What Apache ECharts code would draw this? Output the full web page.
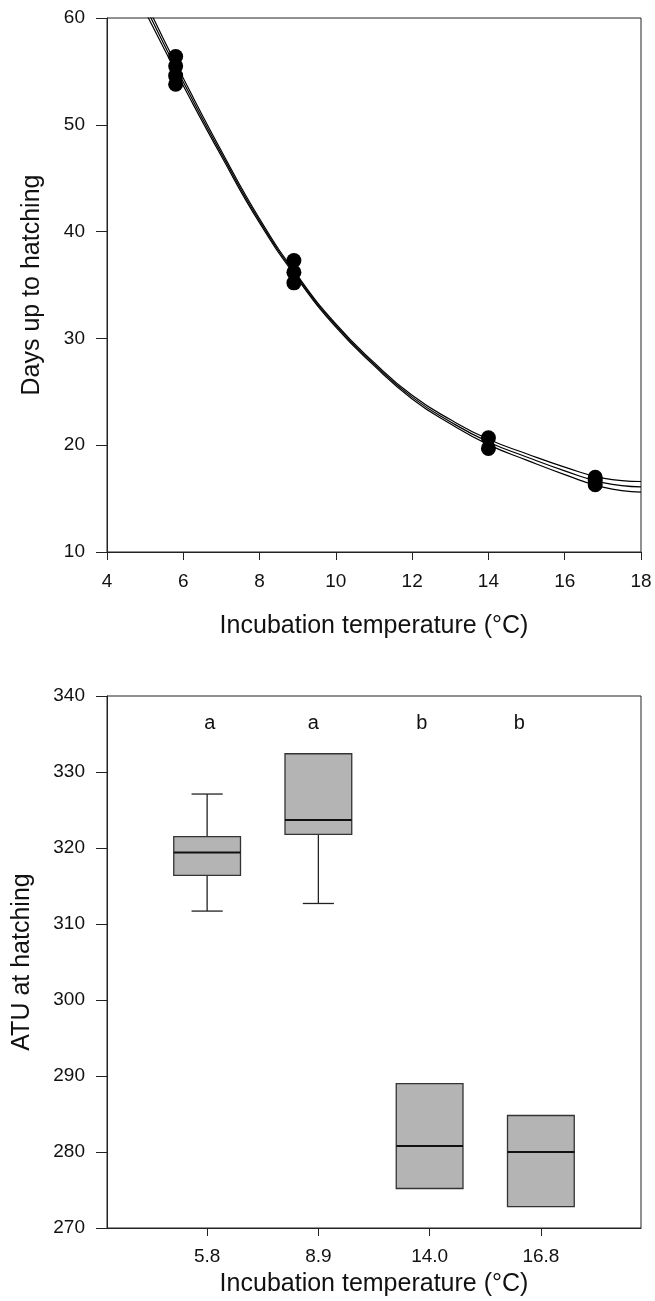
<!DOCTYPE html>
<html>
<head>
<meta charset="utf-8">
<script src="https://cdn.jsdelivr.net/npm/echarts@6/dist/echarts.min.js"></script>
<style>
  html, body { margin: 0; padding: 0; background: #fff; }
  #main { width: 655px; height: 1301px; }
</style>
</head>
<body>
<div id="main"></div>
<script>
// top panel: observed days to hatching
var obsTemp = [5.8, 5.8, 5.8, 5.8, 8.9, 8.9, 8.9, 14.0, 14.0, 16.8, 16.8, 16.8];
var obsDays = [53.8, 54.6, 55.5, 56.4, 35.2, 36.2, 37.3, 19.7, 20.7, 16.3, 16.7, 17.0];

// fitted curve + bands
var curveX = [5.0, 5.5, 6.0, 7.0, 8.0, 9.0, 10.0, 11.0, 12.0, 13.0, 14.0, 15.0, 16.0, 17.0, 18.0];
var curveUp = [61.6, 57.9, 54.35, 47.55, 41.2, 35.85, 31.35, 27.75, 24.67, 22.4, 20.55, 19.2, 17.95, 16.92, 16.6];
var curveMid = [61.1, 57.5, 54.0, 47.3, 41.0, 35.7, 31.2, 27.6, 24.5, 22.2, 20.3, 18.9, 17.6, 16.5, 16.1];
var curveLow = [60.6, 57.1, 53.65, 47.05, 40.8, 35.55, 31.05, 27.45, 24.33, 22.0, 20.05, 18.6, 17.25, 16.08, 15.6];

// bottom panel: ATU box plots
var tempLabels = ['5.8', '8.9', '14.0', '16.8'];
var boxPos = [1, 2, 3, 4];
var whiskLow = [311.7, 312.7, 275.2, 272.8];
var boxQ1 = [316.4, 321.8, 275.2, 272.8];
var boxMed = [319.4, 323.7, 280.8, 280.0];
var boxQ3 = [321.5, 332.4, 289.0, 284.8];
var whiskHigh = [327.1, 332.4, 289.0, 284.8];

var letters = ['a', 'a', 'b', 'b'];
var letterPos = [1.025, 1.954, 2.93, 3.806];
var letterY = 336.4;

var FONT = 'Liberation Sans, Arial, sans-serif';
var INK = '#222';

function pairs(xs, ys) {
  return xs.map(function (x, i) { return [x, ys[i]]; });
}

var boxData = boxPos.map(function (p, i) {
  return [p, whiskLow[i], boxQ1[i], boxMed[i], boxQ3[i], whiskHigh[i]];
});
var letterData = letterPos.map(function (p, i) { return [p, letterY, letters[i]]; });

function renderBox(params, api) {
  var x = api.value(0);
  var lo = api.value(1), q1 = api.value(2), med = api.value(3), q3 = api.value(4), hi = api.value(5);
  var bw = api.size([0.6, 0])[0];
  var cw = api.size([0.28, 0])[0];
  var pLo = api.coord([x, lo]), pQ1 = api.coord([x, q1]), pMed = api.coord([x, med]);
  var pQ3 = api.coord([x, q3]), pHi = api.coord([x, hi]);
  var cx = pMed[0];
  var kids = [];
  var wStyle = { stroke: INK, lineWidth: 1.3 };
  if (hi > q3) {
    kids.push({ type: 'line', shape: { x1: cx, y1: pQ3[1], x2: cx, y2: pHi[1] }, style: wStyle });
    kids.push({ type: 'line', shape: { x1: cx - cw / 2, y1: pHi[1], x2: cx + cw / 2, y2: pHi[1] }, style: wStyle });
  }
  if (lo < q1) {
    kids.push({ type: 'line', shape: { x1: cx, y1: pQ1[1], x2: cx, y2: pLo[1] }, style: wStyle });
    kids.push({ type: 'line', shape: { x1: cx - cw / 2, y1: pLo[1], x2: cx + cw / 2, y2: pLo[1] }, style: wStyle });
  }
  kids.push({
    type: 'rect',
    shape: { x: cx - bw / 2, y: pQ3[1], width: bw, height: pQ1[1] - pQ3[1] },
    style: { fill: '#b4b4b4', stroke: '#333', lineWidth: 1.3 }
  });
  kids.push({ type: 'line', shape: { x1: cx - bw / 2, y1: pMed[1], x2: cx + bw / 2, y2: pMed[1] }, style: { stroke: '#111', lineWidth: 2 } });
  return { type: 'group', children: kids };
}

var axisLine = { show: true, lineStyle: { color: INK, width: 1 } };
var labelStyle = { color: '#111', fontSize: 19, fontFamily: FONT };
var nameStyle = { color: '#111', fontSize: 25, fontFamily: FONT };
var curveStyle = { color: '#000', width: 1.2 };

var option = {
  animation: false,
  backgroundColor: '#fff',
  grid: [
    { left: 107, top: 18, width: 534, height: 534, show: true, borderColor: INK, borderWidth: 1, backgroundColor: 'transparent' },
    { left: 107, top: 696, width: 534, height: 532, show: true, borderColor: INK, borderWidth: 1, backgroundColor: 'transparent' }
  ],
  xAxis: [
    {
      gridIndex: 0, type: 'value', min: 4, max: 18, interval: 2,
      name: 'Incubation temperature (°C)', nameLocation: 'middle', nameGap: 62, nameTextStyle: nameStyle,
      axisLine: axisLine, axisTick: { length: 8, lineStyle: { color: INK } },
      axisLabel: Object.assign({ margin: 20 }, labelStyle),
      splitLine: { show: false }
    },
    {
      gridIndex: 1, type: 'value', min: 0.1, max: 4.9,
      name: 'Incubation temperature (°C)', nameLocation: 'middle', nameGap: 44, nameTextStyle: nameStyle,
      axisLine: axisLine,
      axisTick: { length: 8, lineStyle: { color: INK }, customValues: boxPos },
      axisLabel: Object.assign({ margin: 19, customValues: boxPos, formatter: function (v) { return tempLabels[Math.round(v) - 1]; } }, labelStyle),
      splitLine: { show: false }
    }
  ],
  yAxis: [
    {
      gridIndex: 0, type: 'value', min: 10, max: 60, interval: 10,
      name: 'Days up to hatching', nameLocation: 'middle', nameGap: 62, nameTextStyle: nameStyle,
      axisLine: axisLine, axisTick: { length: 11, lineStyle: { color: INK } },
      axisLabel: Object.assign({ margin: 22 }, labelStyle),
      splitLine: { show: false }
    },
    {
      gridIndex: 1, type: 'value', min: 270, max: 340, interval: 10,
      name: 'ATU at hatching', nameLocation: 'middle', nameGap: 72, nameTextStyle: nameStyle,
      axisLine: axisLine, axisTick: { length: 11, lineStyle: { color: INK } },
      axisLabel: Object.assign({ margin: 22 }, labelStyle),
      splitLine: { show: false }
    }
  ],
  series: [
    { type: 'line', xAxisIndex: 0, yAxisIndex: 0, data: pairs(curveX, curveUp), smooth: true, showSymbol: false, clip: true, lineStyle: curveStyle },
    { type: 'line', xAxisIndex: 0, yAxisIndex: 0, data: pairs(curveX, curveMid), smooth: true, showSymbol: false, clip: true, lineStyle: curveStyle },
    { type: 'line', xAxisIndex: 0, yAxisIndex: 0, data: pairs(curveX, curveLow), smooth: true, showSymbol: false, clip: true, lineStyle: curveStyle },
    { type: 'scatter', xAxisIndex: 0, yAxisIndex: 0, data: pairs(obsTemp, obsDays), symbol: 'circle', symbolSize: 15, itemStyle: { color: '#000', opacity: 1 }, z: 5 },
    { type: 'custom', xAxisIndex: 1, yAxisIndex: 1, data: boxData, renderItem: renderBox, encode: { x: 0, y: [1, 2, 3, 4, 5] } },
    {
      type: 'scatter', xAxisIndex: 1, yAxisIndex: 1, data: letterData, symbolSize: 1,
      itemStyle: { color: 'rgba(0,0,0,0)', opacity: 1 },
      label: { show: true, position: 'inside', formatter: function (p) { return p.value[2]; }, color: '#111', fontSize: 20, fontFamily: FONT }
    }
  ]
};

var chart = echarts.init(document.getElementById('main'), null, { renderer: 'canvas' });
chart.setOption(option);
</script>
</body>
</html>
